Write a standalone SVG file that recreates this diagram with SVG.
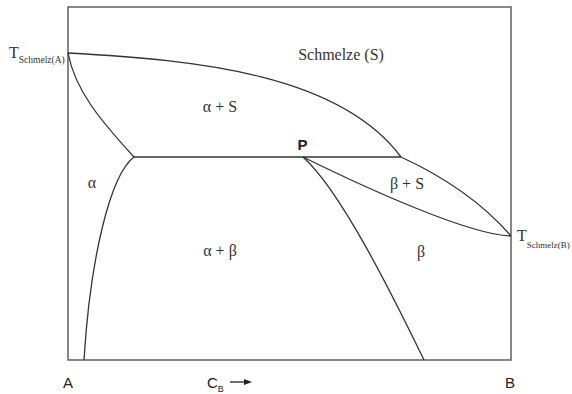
<svg xmlns="http://www.w3.org/2000/svg" width="572" height="394" viewBox="0 0 572 394">
<style>
.ln{fill:none;stroke:#333;stroke-width:1.3}
.bx{fill:none;stroke:#555;stroke-width:1.4}
.sr{font-family:"Liberation Serif",serif;fill:#333;font-size:16px}
.ss{font-family:"Liberation Sans",sans-serif;fill:#222;font-size:15px}
</style>
<rect width="572" height="394" fill="#fff"/>
<g id="frame"><rect class="bx" x="68" y="7" width="443" height="353"/></g>
<g id="connectors">
<path class="ln" d="M68,53 C200,60 340,75 401,157"/>
<path class="ln" d="M68,53 C75,90 100,120 134,157"/>
<path class="ln" d="M134,157 C110,175 90,260 84,360"/>
<path class="ln" d="M134,157 H401"/>
<path class="ln" d="M401,157 C440,175 480,200 511,236"/>
<path class="ln" d="M303,157 C370,190 470,235 511,236"/>
<path class="ln" d="M303,157 C340,190 390,290 424,360"/>
</g>
<g id="labels">
<text class="sr" x="341" y="60" text-anchor="middle" font-size="17">Schmelze (S)</text>
<text class="sr" x="220" y="112" text-anchor="middle">α + S</text>
<text class="sr" x="92" y="188" text-anchor="middle">α</text>
<text class="sr" x="220" y="256" text-anchor="middle">α + β</text>
<text class="sr" x="407" y="189" text-anchor="middle">β + S</text>
<text class="sr" x="421" y="257" text-anchor="middle">β</text>
<text class="ss" x="302.5" y="150" text-anchor="middle" font-size="12" font-weight="bold">P</text>
<text class="sr" x="9" y="58" font-size="14">T<tspan font-size="9.5" dy="5">Schmelz(A)</tspan></text>
<text class="sr" x="517" y="241" font-size="14">T<tspan font-size="9" dy="7">Schmelz(B)</tspan></text>
<text class="ss" x="68" y="388" text-anchor="middle">A</text>
<text class="ss" x="510" y="388" text-anchor="middle">B</text>
<text class="ss" x="207" y="388">C<tspan font-size="9" dy="4">B</tspan></text>
<path d="M230,382 H246" stroke="#222" stroke-width="1.3"/>
<polygon points="244,379 252,382 244,385" fill="#222"/>
</g>
</svg>
